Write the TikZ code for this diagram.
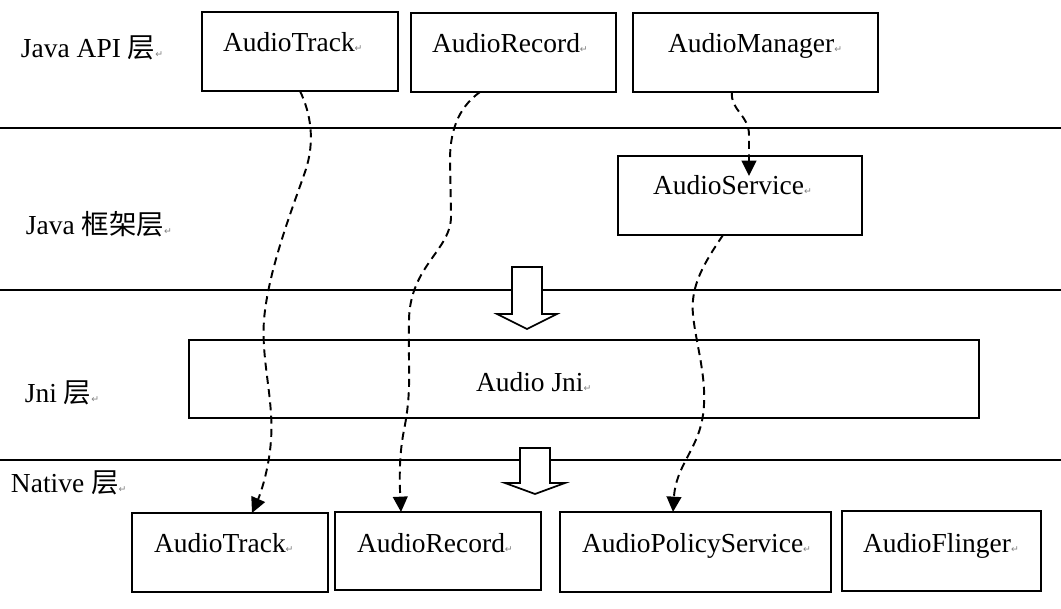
\documentclass[tikz,border=0pt]{standalone}
\usepackage{fontspec}
\setmainfont{Liberation Serif}
\newfontfamily\cjk{Noto Sans CJK SC}
\newfontfamily\symfont{DejaVu Sans}
\usetikzlibrary{arrows.meta,calc}
\newcommand\retmark{{\symfont\fontsize{7}{7}\selectfont\color{gray}↵}}
\begin{document}
\begin{tikzpicture}[x=0.75pt,y=-0.75pt,
  box/.style={draw, line width=1.45pt, inner sep=0pt, outer sep=0pt},
  lbl/.style={anchor=base west, inner sep=0pt, outer sep=0pt, font=\fontsize{20.6}{24}\selectfont},
  conn/.style={line width=1.45pt, dash pattern=on 6pt off 4pt, -{Triangle[length=11.5pt,width=11pt]}},
  layerline/.style={line width=1.3pt},
  hollow/.style={draw, fill=white, line width=1.3pt, line join=miter}]
\useasboundingbox (0,0) rectangle (1061,609);
% layer separators
\draw[layerline] (0,128) -- (1061,128);
\draw[layerline] (0,290) -- (1061,290);
\draw[layerline] (0,460) -- (1061,460);
% boxes
\node[box, minimum width=147pt, minimum height=59.25pt] (at1) at (300,51.5) {};
\node[box, minimum width=153.75pt, minimum height=59.25pt] (ar1) at (513.5,52.5) {};
\node[box, minimum width=183.75pt, minimum height=59.25pt] (am) at (755.5,52.5) {};
\node[box, minimum width=183pt, minimum height=59.25pt] (as) at (740,195.5) {};
\node[box, minimum width=592.5pt, minimum height=58.5pt] (jni) at (584,379) {};
\node[box, minimum width=147pt, minimum height=59.25pt] (at2) at (230,552.5) {};
\node[box, minimum width=154.5pt, minimum height=58.5pt] (ar2) at (438,551) {};
\node[box, minimum width=203.25pt, minimum height=60pt] (aps) at (695.5,552) {};
\node[box, minimum width=149.25pt, minimum height=60pt] (af) at (941.5,551) {};
% box texts
\node[lbl] (t-at1) at (223,52) {AudioTrack\retmark};
\node[lbl] (t-ar1) at (432,53) {AudioRecord\retmark};
\node[lbl] (t-am) at (668,53) {AudioManager\retmark};
\node[lbl] (t-as) at (653,195) {AudioService\retmark};
\node[lbl] (t-jni) at (476,392) {Audio Jni\retmark};
\node[lbl] (t-at2) at (154,553) {AudioTrack\retmark};
\node[lbl] (t-ar2) at (357,553) {AudioRecord\retmark};
\node[lbl] (t-aps) at (582,553) {AudioPolicyService\retmark};
\node[lbl] (t-af) at (863,553) {AudioFlinger\retmark};
% layer labels
\node[lbl] (l1) at (21,58) {Java API {\cjk 层}\retmark};
\node[lbl] (l2) at (26,235) {Java {\cjk 框架层}\retmark};
\node[lbl] (l3) at (25,403) {Jni {\cjk 层}\retmark};
\node[lbl] (l4) at (11,493) {Native {\cjk 层}\retmark};
% hollow block arrows
\draw[hollow] (512,267) -- (542,267) -- (542,314) -- (557,314) -- (527,329) -- (497,314) -- (512,314) -- cycle;
\draw[hollow] (520,448) -- (550,448) -- (550,483) -- (565,483) -- (535,494) -- (505,483) -- (520,483) -- cycle;
% dashed connectors
\draw[conn] (at1.south) .. controls (310,112) and (316,140) .. (305,172)
  .. controls (294,204) and (268,270) .. (264,320)
  .. controls (261,360) and (274,400) .. (271,440)
  .. controls (269,470) and (260,495) .. ($(at2.north)+(22,0)$);
\draw[conn] ($(ar1.south)+(-33.5,0)$) .. controls (462,105) and (450,125) .. (450,160)
  -- (451,215)
  .. controls (452,250) and (410,265) .. (409,320)
  .. controls (408,370) and (412,390) .. (404,430)
  .. controls (398,460) and (400,490) .. ($(ar2.north)+(-37,0)$);
\draw[conn] ($(am.south)+(-23.5,0)$) .. controls (730,110) and (749,115) .. (749,135)
  -- ($(as.north)+(9,20)$);
\draw[conn] ($(as.south)+(-17,0)$) .. controls (705,262) and (690,285) .. (693,315)
  .. controls (696,345) and (708,380) .. (703,415)
  .. controls (698,450) and (676,465) .. ($(aps.north)+(-22.5,0)$);
\end{tikzpicture}
\end{document}
